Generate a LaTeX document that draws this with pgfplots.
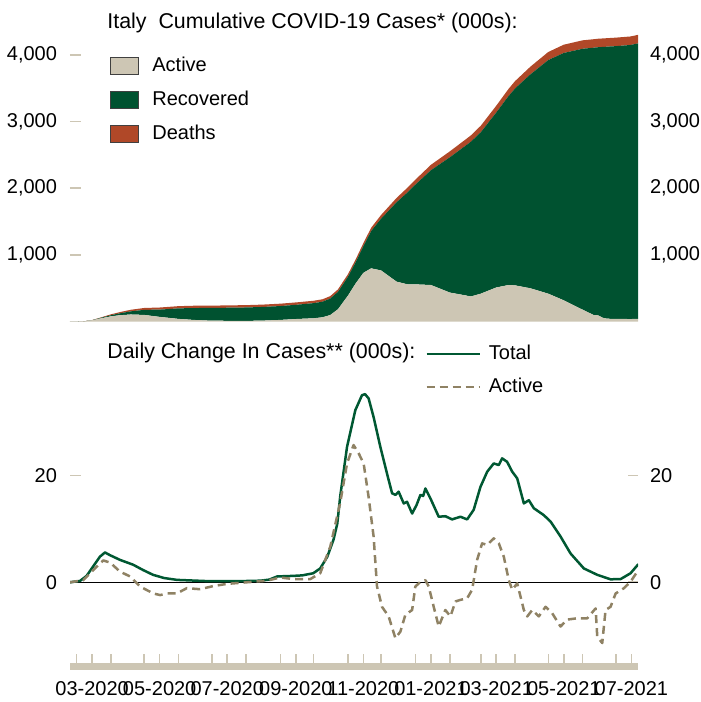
\documentclass[border=0pt]{standalone}
\usepackage{fontspec}
\setmainfont{Liberation Sans}
\usepackage{pgfplots}
\pgfplotsset{compat=1.18}
\usepackage{pgfplotstable}
\definecolor{cActive}{RGB}{205,198,180}
\definecolor{cRec}{RGB}{0,82,48}
\definecolor{cDeath}{RGB}{176,72,40}
\definecolor{cTotal}{RGB}{0,88,50}
\definecolor{cDash}{RGB}{143,130,100}
\definecolor{cTick}{RGB}{205,198,180}

% day = days since 2020-02-24 ; values in thousands
\pgfplotstableread{
day A R D
0 0.2 0 0
6 1.6 0.1 0
13 6.4 0.6 0.4
20 20.6 2.3 1.8
27 46.6 7.4 5.5
37 80.6 16.8 13.2
45 96.9 28.5 18.3
55 108.3 47.0 23.7
67 101.6 75.9 28.2
81 72.1 109.0 31.4
98 42.1 157.5 33.4
112 26.3 178.7 34.4
128 15.1 191.1 34.8
159 12.4 200.8 35.1
174 16.5 204.5 35.2
190 26.8 207.9 35.5
205 41.0 213.6 35.6
220 51.3 226.9 35.9
228 65.9 234.0 36.1
235 99.3 247.1 36.4
242 186.0 261.0 37.3
251 390.0 282.0 38.6
258 573.0 320.0 41.4
265 733.0 400.0 45.2
272 800.0 559.0 49.8
281 768.0 777.0 55.6
295 600.0 1191.0 65.0
305 560.0 1381.0 71.0
312 560.0 1496.0 74.2
326 550.0 1721.0 81.3
343 437.0 2027.0 88.8
357 395.0 2240.0 93.6
362 378.0 2319.0 95.2
371 420.0 2420.0 97.7
385 513.0 2623.0 102.1
396 550.0 2831.0 107.0
402 545.0 2952.0 110.3
416 500.0 3210.0 115.9
432 420.0 3503.0 120.8
446 320.0 3709.0 123.9
463 180.0 3912.0 126.3
473 100.0 4008.0 127.0
477 95.0 4020.0 127.2
481 60.0 4059.0 127.3
485 45.0 4078.0 127.4
493 42.0 4089.0 127.6
506 40.0 4108.0 127.8
513 42.0 4130.0 127.9
}\cumdata

\pgfplotstableread{
day v
0 0
9 0.25
15 1.2
21 3
27 4.8
31.6 5.6
36 5.1
45.2 4.2
57 3.3
66 2.3
75 1.4
85 0.8
96.7 0.45
126.6 0.2
150 0.2
171.8 0.3
180 0.5
187.2 1.1
201.6 1.2
210 1.3
219.7 1.7
226 2.6
232.4 4.8
238 8
241.4 11
244.1 16.2
250.2 25.4
257.7 32.3
263.7 35.1
266.5 35.3
269.7 34.5
274.2 31
280.3 25.4
286.3 20.4
290.9 16.7
294 16.4
296.8 17
301.4 14.8
304.4 15.1
309 12.9
313 14.5
316.5 16.4
319 16.2
321 17.6
325.5 15.75
333 12.3
339 12.4
345.1 11.8
352.6 12.3
358.7 11.8
364.6 13.6
370.7 17.9
376.8 20.75
382.7 22.3
387.3 22
390.3 23.25
394.8 22.6
399.4 20.75
403.9 19.5
409.9 14.8
414.4 15.4
418.9 13.9
427.9 12.6
434 11.4
443 8.6
452.1 5.4
464.1 2.6
476.2 1.4
488.2 0.56
497.3 0.6
506.3 1.7
513.3 3.4
}\totaldata

\pgfplotstableread{
day v
0 0
12 0.4
21 2.3
30.1 4.1
36.2 3.7
45.2 2
54.2 1.1
63.3 -0.8
75.3 -2.1
81.4 -2.4
87.4 -2.1
96.5 -2.1
105.5 -1.1
117.5 -1.3
129.6 -0.7
141.7 -0.3
159.8 0
177.8 0.3
189.9 0.9
201.9 0.6
217 0.6
226 1.7
235.1 6.7
244.1 15
250.2 22.3
256.1 25.75
260.7 24.2
265.2 22.3
269.7 16
274.2 8.6
277.3 -0.8
281.8 -4.6
287.8 -6.4
293.9 -10.5
298.4 -9.25
302.9 -6.1
309 -5.2
311.9 -0.8
316.5 0.1
321 0.4
324 -0.8
328.5 -4.6
333 -8.3
339 -5.2
343.6 -6.4
348.1 -3.6
352.6 -3.3
358.7 -3
363.2 -1.4
367.7 4.2
372.2 7.3
376.8 7
382.7 8.25
387.3 7.3
391.8 4.8
396.3 0.4
399.4 -1.4
403.9 -0.2
409.9 -5.2
413 -6.4
417.5 -5.2
423.4 -6.4
429.5 -4.6
435.5 -5.8
443 -8.3
449.1 -7
458.1 -6.75
467.2 -6.75
474.7 -4.9
476.2 -10.2
480.7 -11.4
483.7 -5.2
488.2 -4.6
492.8 -2.1
500.3 -1.1
506.3 0.1
513.3 2.3
}\activedata

\begin{document}
\begin{tikzpicture}
\path[use as bounding box] (0pt,0pt) rectangle (350.5pt,351pt);
\pgfplotsset{
  base/.style={
    scale only axis, width=284pt, xmin=0, xmax=513,
    anchor=south west,
    tick align=inside, major tick length=5.25pt,
    every tick/.style={cTick, line width=0.8pt},
    /pgf/number format/assume math mode=true,
    tick label style={font=\fontsize{10}{12}\selectfont},
    axis line style={draw=none},
  },
}
% ---------------- top panel ----------------
\begin{axis}[base, at={(35pt,190.15pt)}, height=146.75pt,
  ymin=0, ymax=4400, ytick={1000,2000,3000,4000}, xtick=\empty,
  ytick pos=both, yticklabel style={xshift=-3pt},
  stack plots=y,
  legend style={draw=none, fill=none, at={(axis description cs:0.0704,0.9155)},
    anchor=north west, inner sep=0pt, row sep=4.25pt,
    font=\fontsize{10}{12}\selectfont,
    /tikz/every odd column/.append style={column sep=4.5pt}},
  legend cell align=left,
  legend image code/.code={\draw[#1, draw=black!75, line width=0.5pt] (0pt,-4.375pt) rectangle (14pt,4.375pt);},
]
\addplot[fill=cActive, draw=none] table[x=day, y=A]{\cumdata} \closedcycle;
\addlegendentry{Active}
\addplot[fill=cRec, draw=none] table[x=day, y=R]{\cumdata} \closedcycle;
\addlegendentry{Recovered}
\addplot[fill=cDeath, draw=none] table[x=day, y=D]{\cumdata} \closedcycle;
\addlegendentry{Deaths}
\end{axis}
\begin{axis}[base, at={(35pt,190.15pt)}, height=146.75pt,
  ymin=0, ymax=4400, ytick={1000,2000,3000,4000}, xtick=\empty,
  yticklabel pos=right, major tick length=0pt, yticklabel style={xshift=2.5pt}]
\end{axis}
\node[anchor=base west, inner sep=0pt, font=\fontsize{10.7}{12.8}\selectfont] at (53.5pt,336.85pt) {Italy\ \ Cumulative COVID-19 Cases* (000s):};
% ---------------- bottom panel ----------------
\begin{axis}[base, at={(35pt,17.75pt)}, height=148.7pt,
  ymin=-15.8, ymax=40, ytick={0,20}, ytick pos=both, yticklabel style={xshift=-3pt},
  axis x line*=bottom,
  x axis line style={draw=cTick, line width=3.5pt},
  xtick={6,37,67,98,128,159,190,220,251,281,312,343,371,402,432,463,493},
  xticklabels={,,,,,,,,,,,,,,,,},
  xtick style={/pgfplots/major tick length=6.25pt},
  extra x ticks={20,81,142,204,265,326,385,446,507},
  extra x tick labels={03-2020,05-2020,07-2020,09-2020,11-2020,01-2021,03-2021,05-2021,07-2021},
  extra x tick style={major tick length=0pt, xticklabel style={yshift=-4pt}},
  legend style={draw=none, fill=none, at={(axis description cs:0.625,1.0945)},
    anchor=north west, inner sep=0pt, row sep=3.8pt,
    font=\fontsize{10}{12}\selectfont,
    /tikz/every odd column/.append style={column sep=2pt}},
  legend cell align=left,
  legend image code/.code={\draw[#1] (0pt,0pt) -- (26.5pt,0pt);},
]
\addplot[black, line width=0.6pt, forget plot] coordinates {(0,0) (513,0)};
\addplot[cTotal, line width=1.25pt, line join=round] table[x=day, y=v]{\totaldata};
\addlegendentry{Total}
\addplot[cDash, line width=1.25pt, dash pattern=on 4pt off 2.5pt, line join=round] table[x=day, y=v]{\activedata};
\addlegendentry{Active}
\end{axis}
\begin{axis}[base, at={(35pt,17.75pt)}, height=148.7pt,
  ymin=-15.8, ymax=40, ytick={0,20}, xtick=\empty,
  yticklabel pos=right, major tick length=0pt, yticklabel style={xshift=2.5pt}]
\end{axis}
\node[anchor=base west, inner sep=0pt, font=\fontsize{10.7}{12.8}\selectfont] at (53.5pt,171.5pt) {Daily Change In Cases** (000s):};
\end{tikzpicture}
\end{document}
